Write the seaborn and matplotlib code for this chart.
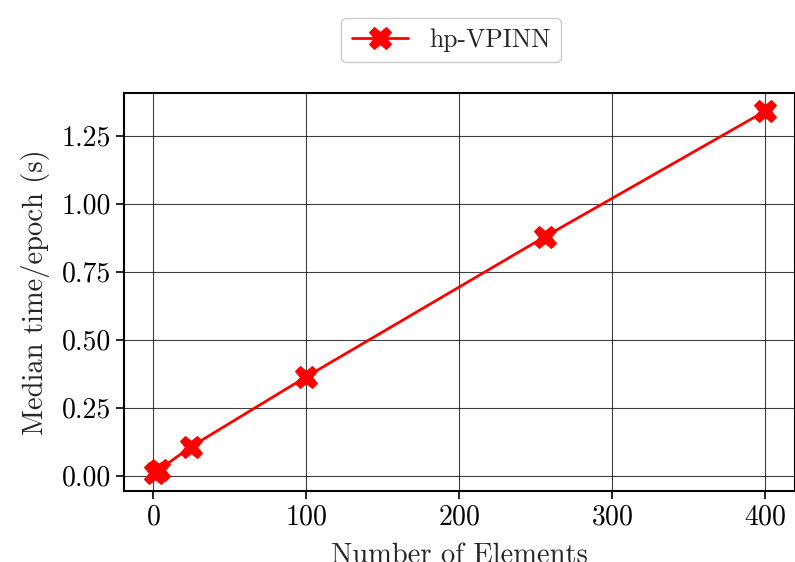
import numpy as np
import pandas as pd
import matplotlib
matplotlib.use("Agg")
import matplotlib.pyplot as plt
import seaborn as sns

# data
n_elements = [1, 4, 25, 100, 256, 400]
median_time = [0.010, 0.022, 0.107, 0.363, 0.878, 1.340]
series_name = "hp-VPINN"

df = pd.DataFrame({"elements": n_elements, "time": median_time, "method": series_name})

sns.set_style("ticks")
plt.rcParams["font.family"] = ["cmr10", "DejaVu Serif"]
plt.rcParams["mathtext.fontset"] = "cm"
plt.rcParams["axes.formatter.use_mathtext"] = True
plt.rcParams["axes.unicode_minus"] = False

fig = plt.figure(figsize=(7.95, 5.62), dpi=100)
ax = fig.add_axes([0.156, 0.1263, 0.8446, 0.708])

sns.lineplot(data=df, x="elements", y="time", hue="method", palette=["red"],
             marker="X", markersize=16, markeredgecolor="red", linewidth=2, ax=ax)

ax.grid(True, color="black", linewidth=0.8, alpha=0.75)
for s in ax.spines.values():
    s.set_linewidth(1.5)
    s.set_color("black")
ax.tick_params(direction="out", length=6, width=1.2, labelsize=20, colors="black")
ax.set_xticks([0, 100, 200, 300, 400])
ax.set_yticks([0, 0.25, 0.5, 0.75, 1.0, 1.25])
ax.set_yticklabels(["0.00", "0.25", "0.50", "0.75", "1.00", "1.25"])
ax.set_xlabel("Number of Elements", fontsize=20.5, labelpad=9)
ax.set_ylabel("Median time/epoch (s)", fontsize=20.5, labelpad=8)

leg = ax.legend(loc="center", bbox_to_anchor=(0.487, 1.133), fontsize=18.5,
                frameon=True, fancybox=True, framealpha=1, edgecolor="#cccccc",
                handlelength=2.2)

fig.savefig("out.png", dpi=100)
